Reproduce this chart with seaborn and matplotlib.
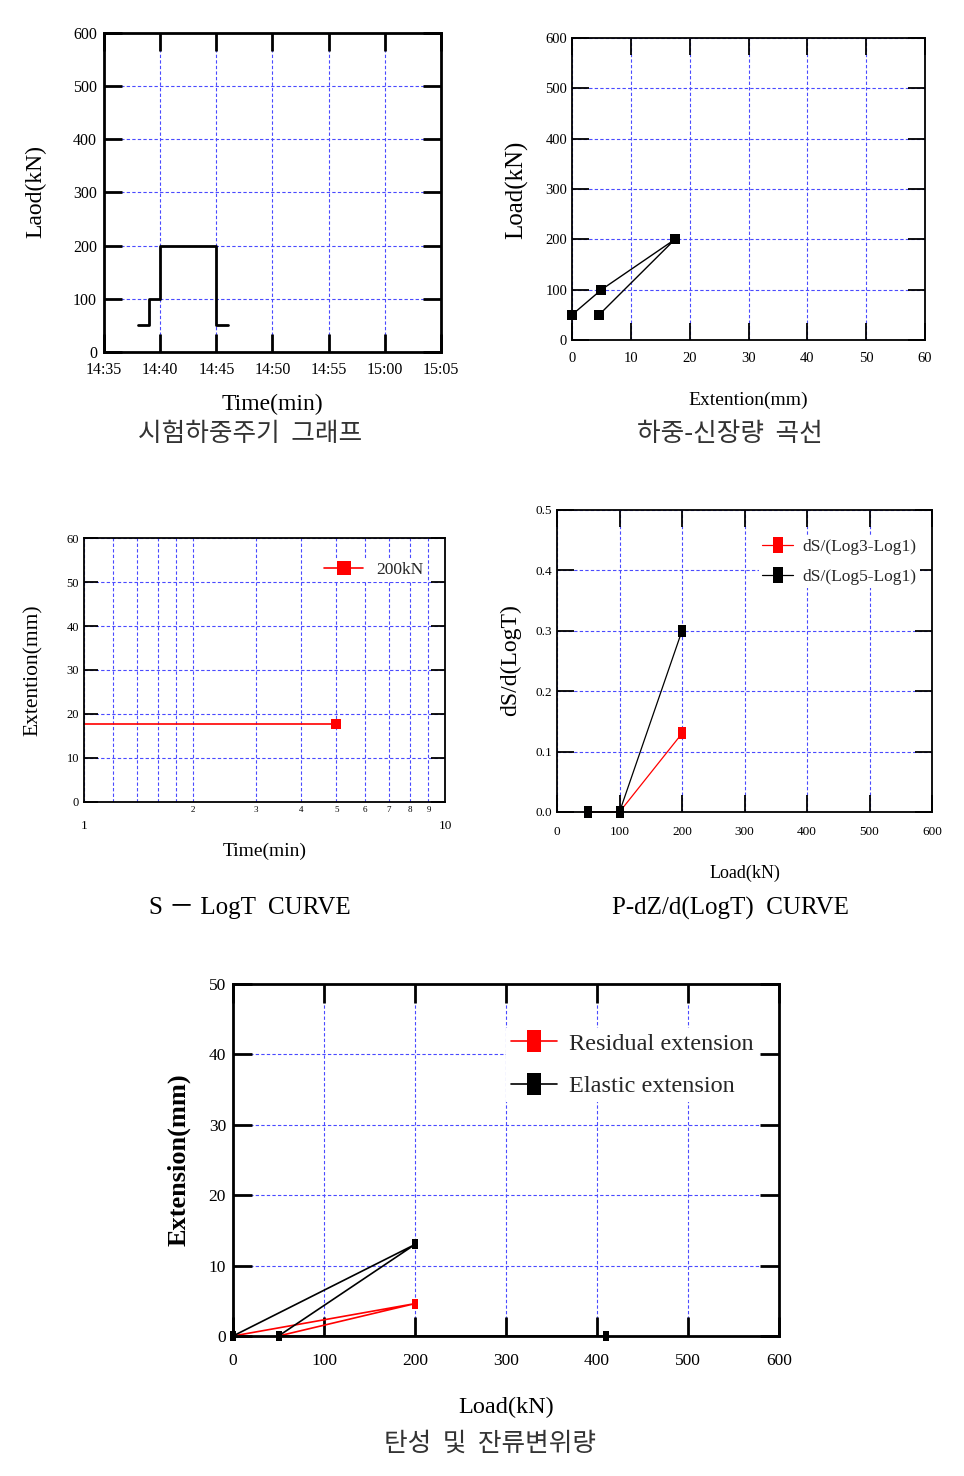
import numpy as np
import pandas as pd
import matplotlib
matplotlib.use("Agg")
import matplotlib.pyplot as plt
import seaborn as sns
from matplotlib.ticker import FixedLocator

# ============================
# DATA
# ============================
# load cycle
cycle_time = ["14:38", "14:39", "14:40", "14:45", "14:46"]
cycle_load = [50, 100, 200, 50, 50]
time_ticks = ["14:35", "14:40", "14:45", "14:50", "14:55", "15:00", "15:05"]

# load - extension
pe_ext = [0, 5.0, 17.5, 4.6]
pe_load = [50, 100, 200, 50]

# S - logT
slog_time = [1, 5]
slog_ext = [17.7, 17.7]
logt_minor = [1.2, 1.4, 1.6, 1.8, 2, 3, 4, 5, 6, 7, 8, 9]
logt_minor_labels = ["", "", "", "", "2", "3", "4", "5", "6", "7", "8", "9"]

# P - dZ/d(logT)
dz_load = [50, 100, 200]
dz_log3 = [0.0, 0.0, 0.13]
dz_log5 = [0.0, 0.0, 0.30]

# elastic / residual
res_load = [0, 200, 50]
res_ext = [0, 4.6, 0]
el_load = [0, 200, 50, 410]
el_ext = [0, 13.0, 0, 0]

# ============================
# STYLE
# ============================
sns.set_theme(style="ticks")
plt.rcParams['font.family'] = ['Liberation Serif', 'Noto Sans CJK KR', 'DejaVu Sans']
plt.rcParams['axes.facecolor'] = 'white'

W, H = 964, 1476
fig = plt.figure(figsize=(W / 100, H / 100), dpi=100)
GRID = '#4a4aff'
KR = ['Noto Sans CJK KR', 'DejaVu Sans']
# tall rectangle marker (like the original plotting program)
RECT = [(-0.65, -1), (0.65, -1), (0.65, 1), (-0.65, 1), (-0.65, -1)]


def px_axes(l, t, r, b):
    return fig.add_axes([l / W, 1 - b / H, (r - l) / W, (b - t) / H])


def frame(ax, lw=1.6, tlen=10):
    for s in ax.spines.values():
        s.set_linewidth(lw)
        s.set_color('black')
        s.set_visible(True)
    ax.tick_params(which='major', direction='in', length=tlen, width=lw,
                   top=True, right=True, colors='black', labelcolor='black')
    ax.grid(True, which='major', color=GRID, linestyle=(0, (3, 2)), linewidth=0.8)
    ax.set_axisbelow(True)
    ax.set_xlabel('')
    ax.set_ylabel('')
    for ln in ax.lines:
        ln.set_clip_on(False)


def ftext(x, y, s, **kw):
    kw.setdefault('ha', 'center')
    kw.setdefault('va', 'center')
    kw.setdefault('color', 'black')
    fig.text(x / W, 1 - y / H, s, **kw)


def caption(x, y, s):
    ftext(x, y, s, fontsize=18.5, family=KR, weight='light', color='#333333')


def to_min(s):
    h, m = s.split(":")
    return int(h) * 60 + int(m)


# ============================
# 1. 시험하중주기 그래프
# ============================
ax1 = px_axes(104, 33, 441, 352)
df1 = pd.DataFrame({'t': [to_min(s) for s in cycle_time], 'load': cycle_load})
sns.lineplot(data=df1, x='t', y='load', ax=ax1, color='black', linewidth=2,
             drawstyle='steps-post', estimator=None, sort=False)
ax1.set_xlim(to_min(time_ticks[0]), to_min(time_ticks[-1]))
ax1.set_ylim(0, 600)
ax1.set_xticks([to_min(s) for s in time_ticks])
ax1.set_xticklabels(time_ticks)
ax1.set_yticks(range(0, 601, 100))
frame(ax1, lw=2, tlen=13)
ax1.tick_params(axis='x', labelsize=11.5, pad=7)
ax1.tick_params(axis='y', labelsize=11.5, pad=5)
ftext(272, 404, 'Time(min)', fontsize=17)
caption(250, 434, '시험하중주기  그래프')
ftext(36, 192, 'Laod(kN)', fontsize=17, rotation=90)

# ============================
# 2. 하중-신장량 곡선
# ============================
ax2 = px_axes(572, 38, 925, 340)
df2 = pd.DataFrame({'ext': pe_ext, 'load': pe_load})
sns.lineplot(data=df2, x='ext', y='load', ax=ax2, color='black', linewidth=1,
             marker='s', markersize=7.5, markeredgewidth=0, estimator=None, sort=False)
ax2.set_xlim(0, 60)
ax2.set_ylim(0, 600)
ax2.set_xticks(range(0, 61, 10))
ax2.set_yticks(range(0, 601, 100))
frame(ax2, lw=1.3, tlen=12)
ax2.tick_params(axis='x', labelsize=10.5, pad=9)
ax2.tick_params(axis='y', labelsize=10.5)
ftext(748, 400, 'Extention(mm)', fontsize=14)
caption(730, 434, '하중-신장량  곡선')
ftext(517, 190, 'Load(kN)', fontsize=18, rotation=90)

# ============================
# 3. S - LogT CURVE
# ============================
ax3 = px_axes(84, 538, 445, 802)
df3 = pd.DataFrame({'t': slog_time, 'ext': slog_ext})
sns.lineplot(data=df3, x='t', y='ext', ax=ax3, color='red', linewidth=1.2,
             marker='s', markersize=7.5, markeredgewidth=0, markevery=[1],
             estimator=None, sort=False, label='200kN')
ax3.set_xscale('log')
ax3.set_xlim(1, 10)
ax3.set_ylim(0, 60)
ax3.set_yticks(range(0, 61, 10))
ax3.xaxis.set_major_locator(FixedLocator([1, 10]))
ax3.set_xticklabels(['1', '10'])
ax3.xaxis.set_minor_locator(FixedLocator(logt_minor))
ax3.set_xticklabels(logt_minor_labels, minor=True)
frame(ax3, lw=1.3, tlen=10)
ax3.tick_params(axis='x', which='major', length=0, pad=13, labelsize=9.5)
ax3.tick_params(axis='x', which='minor', length=0, pad=3, labelsize=6.5, colors='black')
ax3.tick_params(axis='y', labelsize=9)
ax3.grid(True, which='both', axis='x', color=GRID, linestyle=(0, (3, 2)), linewidth=0.8)
ax3.legend(loc='upper right', bbox_to_anchor=(0.975, 0.955), frameon=True,
           facecolor='white', edgecolor='none', framealpha=1, fancybox=False,
           fontsize=12.5, handlelength=2.2, numpoints=1, borderpad=0.2,
           markerscale=1.3)
ftext(265, 851, 'Time(min)', fontsize=14)
ftext(250, 908, 'S － LogT  CURVE', fontsize=18)
ftext(33, 670, 'Extention(mm)', fontsize=15.5, rotation=90)

# ============================
# 4. P-dZ/d(LogT) CURVE
# ============================
ax4 = px_axes(557, 510, 932, 812)
df4 = pd.DataFrame({'load': dz_load, 'log3': dz_log3, 'log5': dz_log5})
sns.lineplot(data=df4, x='load', y='log3', ax=ax4, color='red', linewidth=0.9,
             marker=RECT, markersize=8, markeredgewidth=0, estimator=None, sort=False,
             label='dS/(Log3-Log1)')
sns.lineplot(data=df4, x='load', y='log5', ax=ax4, color='black', linewidth=0.9,
             marker=RECT, markersize=8, markeredgewidth=0, estimator=None, sort=False,
             label='dS/(Log5-Log1)')
ax4.set_xlim(0, 600)
ax4.set_ylim(0, 0.5)
ax4.set_xticks(range(0, 601, 100))
ax4.set_yticks(np.arange(0, 0.51, 0.1))
ax4.set_yticklabels(['0.0', '0.1', '0.2', '0.3', '0.4', '0.5'])
frame(ax4, lw=1.3, tlen=12)
ax4.tick_params(axis='x', labelsize=9.5, pad=10)
ax4.tick_params(axis='y', labelsize=9.5)
ax4.legend(loc='upper right', bbox_to_anchor=(0.99, 0.945), frameon=True,
           facecolor='white', edgecolor='none', framealpha=1, fancybox=False,
           fontsize=12.5, handlelength=1.8, numpoints=1, borderpad=0.2,
           labelspacing=0.8, handletextpad=0.5, markerscale=1.5)
ftext(745, 873, 'Load(kN)', fontsize=13)
ftext(730, 908, 'P-dZ/d(LogT)  CURVE', fontsize=18)
ftext(511, 660, 'dS/d(LogT)', fontsize=17, rotation=90)

# ============================
# 5. 탄성 및 잔류변위량
# ============================
ax5 = px_axes(233, 984, 779, 1336)
df5r = pd.DataFrame({'load': res_load, 'ext': res_ext})
df5e = pd.DataFrame({'load': el_load, 'ext': el_ext})
sns.lineplot(data=df5r, x='load', y='ext', ax=ax5, color='red', linewidth=1.2,
             marker=RECT, markersize=7.5, markeredgewidth=0, estimator=None, sort=False,
             label='Residual extension')
sns.lineplot(data=df5e, x='load', y='ext', ax=ax5, color='black', linewidth=1.2,
             marker=RECT, markersize=7.5, markeredgewidth=0, estimator=None, sort=False,
             label='Elastic extension')
ax5.set_xlim(0, 600)
ax5.set_ylim(0, 50)
ax5.set_xticks(range(0, 601, 100))
ax5.set_yticks(range(0, 51, 10))
frame(ax5, lw=2, tlen=14)
ax5.tick_params(axis='x', labelsize=12.5, pad=12)
ax5.tick_params(axis='y', labelsize=12.5, pad=5)
ax5.legend(loc='upper right', bbox_to_anchor=(0.985, 0.91), frameon=True,
           facecolor='white', edgecolor='none', framealpha=1, fancybox=False,
           fontsize=17.5, handlelength=1.9, numpoints=1, borderpad=0.2,
           labelspacing=0.85, handletextpad=0.5, markerscale=2.2)
ftext(506, 1407, 'Load(kN)', fontsize=17.5)
caption(490, 1444, '탄성  및  잔류변위량')
ftext(179, 1160, 'Extension(mm)', fontsize=19, rotation=90, weight='bold')

fig.savefig('out.png', dpi=100)
